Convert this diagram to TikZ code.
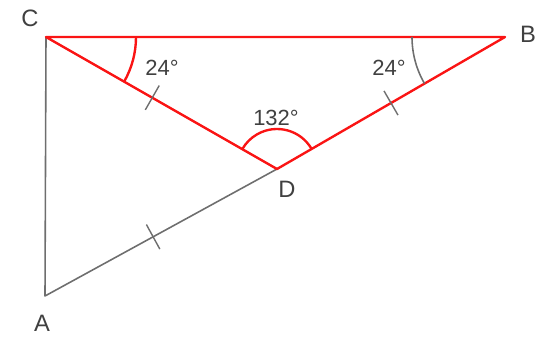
\documentclass[tikz,border=0pt]{standalone}
\usepackage{fontspec}
\setmainfont{Liberation Sans}
\usetikzlibrary{calc}
\definecolor{segred}{RGB}{250,20,20}
\definecolor{seggray}{RGB}{110,110,110}

\begin{document}
\begin{tikzpicture}[x=0.02cm, y=0.02cm,
    redside/.style={segred, line width=1.35pt, line join=round},
    grayside/.style={seggray, line width=0.9pt, line join=round},
    tickmark/.style={seggray, line width=0.8pt},
    vlabel/.style={text=black!75, font=\fontsize{13.5}{15}\selectfont},
    alabel/.style={text=black!75, font=\fontsize{12.5}{14}\selectfont, inner sep=0pt}]
  \useasboundingbox (0,0) rectangle (542,336);
  %% Vertices
  \coordinate (C) at (46,299);
  \coordinate (B) at (505,299);
  \coordinate (D) at (277,167);
  \coordinate (A) at (45,40);
  %% Vertex labels
  \node[vlabel] (lC) at (30,318) {C};
  \node[vlabel] (lB) at (528,302) {B};
  \node[vlabel] (lD) at (287,147) {D};
  \node[vlabel] (lA) at (42,13) {A};
  %% Gray sides
  \draw[grayside] (C) -- (A) -- (D);
  %% Red triangle
  \draw[redside] (C) -- (B) -- (D) -- cycle;
  %% Angle arcs
  \draw[redside] ($(C)+(0:90)$) arc[start angle=0, end angle=-29.74, radius=90];
  \draw[grayside] ($(B)+(180:93)$) arc[start angle=180, end angle=210.07, radius=93];
  \draw[redside] ($(D)+(29.93:40)$) arc[start angle=29.93, end angle=150.26, radius=40];
  %% Angle labels
  \node[alabel] (aC) at (162,268) {24°};
  \node[alabel] (aB) at (389,268) {24°};
  \node[alabel] (aD) at (276,218) {132°};
  %% Equal-length ticks
  \draw[tickmark] ($(C)!0.46!(D)!0.28cm!90:(D)$) -- ($(C)!0.46!(D)!0.28cm!-90:(D)$);
  \draw[tickmark] ($(B)!0.50!(D)!0.28cm!90:(D)$) -- ($(B)!0.50!(D)!0.28cm!-90:(D)$);
  \draw[tickmark] ($(A)!0.466!(D)!0.28cm!90:(D)$) -- ($(A)!0.466!(D)!0.28cm!-90:(D)$);
\end{tikzpicture}
\end{document}
